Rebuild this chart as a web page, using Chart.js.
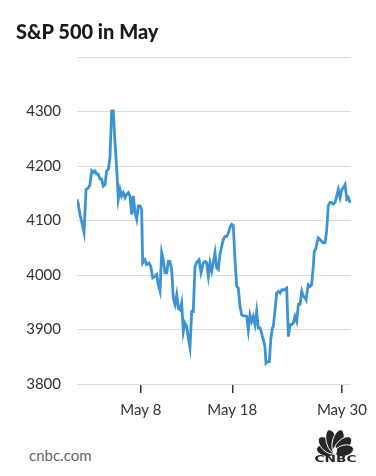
<!DOCTYPE html>
<html>
<head>
<meta charset="utf-8">
<script src="https://cdn.jsdelivr.net/npm/chart.js@4"></script>
<style>
    html, body { margin: 0; padding: 0; background: #fff; }
    body { width: 376px; height: 476px; position: relative; overflow: hidden; font-family: Lato, sans-serif; }
    #title { position: absolute; left: 16px; top: 22px; font-size: 20px; line-height: 19px; font-weight: 900; color: #1a1a1a; }
    #chart-wrap { position: absolute; left: 0; top: 0; width: 376px; height: 430px; }
    #source { position: absolute; left: 29px; top: 448px; font-size: 15px; line-height: 15px; color: #666; }
    #logo { position: absolute; left: 312px; top: 428px; }
</style>
</head>
<body>
<div id="chart-wrap"><canvas id="sp500" width="376" height="430"></canvas></div>
<div id="title">S&amp;P 500 in May</div>
<div id="source">cnbc.com</div>
<svg id="logo" width="46" height="36" viewBox="0 0 46 36">
    <g fill="#262626" stroke="#fff" stroke-width="0.9">
        <ellipse cx="23" cy="15.5" rx="5.6" ry="9.5" transform="rotate(-76 23 25)" />
        <ellipse cx="23" cy="14" rx="5.8" ry="11" transform="rotate(-46 23 25)" />
        <ellipse cx="23" cy="13" rx="5.6" ry="12" transform="rotate(-15 23 25)" />
        <ellipse cx="23" cy="13" rx="5.6" ry="12" transform="rotate(15 23 25)" />
        <ellipse cx="23" cy="14" rx="5.8" ry="11" transform="rotate(46 23 25)" />
        <ellipse cx="23" cy="15.5" rx="5.6" ry="9.5" transform="rotate(76 23 25)" />
    </g>
    <ellipse cx="23" cy="22.5" rx="2" ry="3.6" fill="#fff" />
    <text x="2.5" y="34" font-family="DejaVu Sans" font-weight="bold" font-size="8.5" textLength="42" lengthAdjust="spacingAndGlyphs" fill="#262626">CNBC</text>
</svg>

<script>
// S&P 500, May (x = day of month)
const days = [
    1.00, 1.14, 1.33, 1.58, 1.77, 1.99, 2.24, 2.42, 2.61, 2.78,
    2.97, 3.16, 3.33, 3.52, 3.70, 3.88, 4.07, 4.25, 4.43, 4.61,
    4.80, 4.97, 5.16, 5.35, 5.52, 5.71, 5.89, 6.07, 6.26, 6.44,
    6.62, 6.80, 6.99, 7.16, 7.35, 7.54, 7.71, 7.90, 8.08, 8.19,
    8.44, 8.62, 8.88, 9.07, 9.29, 9.54, 9.73, 9.90, 10.09, 10.27,
    10.45, 10.64, 10.82, 11.00, 11.18, 11.37, 11.54, 11.73, 11.92, 12.09,
    12.28, 12.46, 12.64, 12.82, 13.01, 13.19, 13.37, 13.56, 13.73, 13.92,
    14.10, 14.36, 14.58, 14.83, 15.02, 15.20, 15.38, 15.56, 15.75, 15.92,
    16.11, 16.29, 16.47, 16.66, 16.84, 17.02, 17.20, 17.39, 17.57, 17.75,
    17.94, 18.11, 18.30, 18.49, 18.66, 18.85, 19.03, 19.21, 19.39, 19.58,
    19.76, 19.94, 20.13, 20.30, 20.49, 20.67, 20.85, 21.04, 21.22, 21.40,
    21.58, 21.69, 21.88, 22.06, 22.21, 22.39, 22.50, 22.68, 22.87, 23.05,
    23.23, 23.42, 23.59, 23.78, 23.96, 24.14, 24.33, 24.51, 24.69, 24.87,
    25.06, 25.24, 25.42, 25.61, 25.78, 25.97, 26.07, 26.32, 26.51, 26.69,
    26.87, 26.98, 27.13, 27.24, 27.42, 27.61, 27.79, 27.96, 28.15, 28.33,
    28.51, 28.70, 28.88, 29.06, 29.25, 29.44, 29.61, 29.80, 29.99, 30.16,
    30.35, 30.54, 30.71, 30.82, 31.00
];

const prices = [
    4139, 4130, 4111, 4093, 4078, 4157, 4160, 4166, 4191, 4188,
    4191, 4185, 4185, 4176, 4176, 4163, 4166, 4191, 4194, 4216,
    4301, 4301, 4243, 4194, 4139, 4157, 4145, 4151, 4142, 4148,
    4151, 4145, 4111, 4145, 4115, 4102, 4127, 4127, 4120, 4022,
    4028, 4019, 4022, 4016, 3995, 3998, 4001, 3982, 3970, 4041,
    4028, 4004, 4004, 4025, 4025, 4010, 3958, 3946, 3964, 3939,
    3936, 3949, 3896, 3912, 3906, 3884, 3867, 3933, 3933, 4016,
    4023, 4028, 4004, 4022, 4025, 4022, 3998, 4022, 4007, 4022,
    4041, 4013, 4010, 4038, 4053, 4065, 4071, 4071, 4077, 4087,
    4093, 4091, 4028, 3979, 3976, 3942, 3927, 3925, 3925, 3924,
    3899, 3927, 3915, 3924, 3909, 3933, 3903, 3903, 3893, 3881,
    3869, 3838, 3841, 3841, 3881, 3903, 3906, 3936, 3967, 3970,
    3967, 3973, 3972, 3974, 3976, 3887, 3909, 3909, 3912, 3924,
    3915, 3946, 3946, 3970, 3961, 3958, 3955, 3982, 3979, 3982,
    4016, 4044, 4047, 4056, 4068, 4065, 4062, 4059, 4059, 4080,
    4127, 4133, 4133, 4130, 4133, 4145, 4157, 4142, 4157, 4160,
    4166, 4139, 4142, 4136, 4133
];

const xTickDays = [8, 18, 30];
const xTickLabels = ["May 8", "May 18", "May 30"];
const yTickValues = [3800, 3900, 4000, 4100, 4200, 4300, 4400];
const yHiddenLabel = 4400; // top gridline has no label

const lineColor = "#3b93d4";
const textColor = "#333333";
const gridColor = "#dcdcdc";

const ctx = document.getElementById("sp500");

new Chart(ctx, {
    type: "line",
    data: {
        datasets: [
            {
                label: "S&P 500",
                data: days.map((d, i) => ({ x: d, y: prices[i] })),
                borderColor: lineColor,
                borderWidth: 2.8,
                pointRadius: 0,
                tension: 0,
                fill: false,
            },
        ],
    },
    options: {
        responsive: false,
        animation: false,
        layout: {
            padding: { top: 57, right: 25, left: 0, bottom: 0 },
        },
        plugins: {
            legend: { display: false },
            tooltip: { enabled: false },
        },
        scales: {
            x: {
                type: "linear",
                min: 1,
                max: 31,
                afterBuildTicks: (scale) => {
                    scale.ticks = xTickDays.map((v) => ({ value: v }));
                },
                afterFit: (scale) => {
                    scale.height = 46;
                },
                ticks: {
                    autoSkip: false,
                    maxRotation: 0,
                    padding: 8,
                    color: textColor,
                    font: { family: "Lato", size: 15 },
                    callback: (v) => xTickLabels[xTickDays.indexOf(v)],
                },
                grid: {
                    drawOnChartArea: false,
                    tickLength: 9,
                    color: textColor,
                    lineWidth: 1.5,
                },
                border: { display: false },
            },
            y: {
                min: yTickValues[0],
                max: yTickValues[yTickValues.length - 1],
                afterBuildTicks: (scale) => {
                    scale.ticks = yTickValues.map((v) => ({ value: v }));
                },
                afterFit: (scale) => {
                    scale.width = 77;
                },
                ticks: {
                    padding: 16,
                    color: textColor,
                    font: { family: "Lato", size: 15 },
                    callback: (v) => (v === yHiddenLabel ? "" : v),
                },
                grid: {
                    drawTicks: false,
                    color: gridColor,
                    lineWidth: 1,
                },
                border: { display: false },
            },
        },
    },
});
</script>
</body>
</html>
